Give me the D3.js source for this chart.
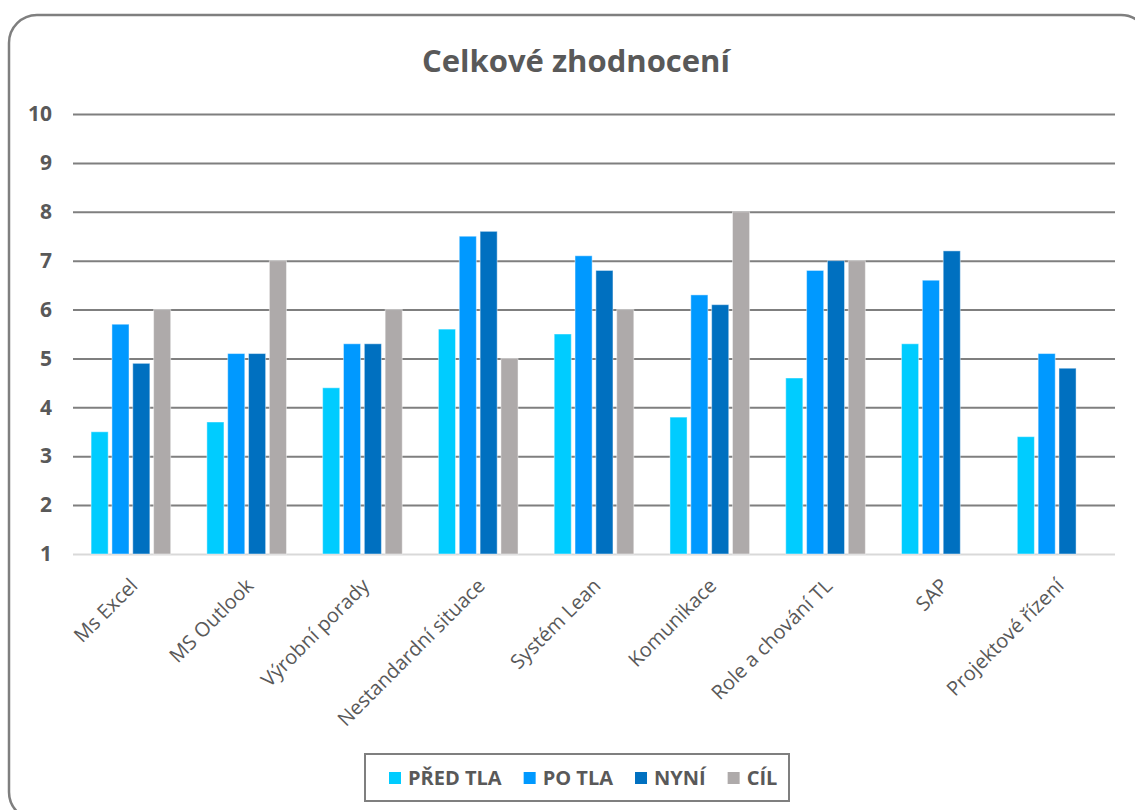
<!DOCTYPE html>
<html>
<head>
<meta charset="utf-8">
<script src="https://cdn.jsdelivr.net/npm/d3@7/dist/d3.min.js"></script>
<style>
  html, body { margin: 0; padding: 0; background: #ffffff; }
  svg { display: block; }
  text { font-family: "Open Sans", "DejaVu Sans", sans-serif; fill: #595959; }
</style>
</head>
<body>
<svg id="chart" width="1135" height="810"></svg>
<script>
// Evaluation categories (x axis)
const categories = [
  "Ms Excel", "MS Outlook", "Výrobní porady", "Nestandardní situace",
  "Systém Lean", "Komunikace", "Role a chování TL", "SAP", "Projektové řízení"
];

// Series names and scores per category (null = no value)
const seriesNames = ["PŘED TLA", "PO TLA", "NYNÍ", "CÍL"];
const predTla = [3.5, 3.7, 4.4, 5.6, 5.5, 3.8, 4.6, 5.3, 3.4];
const poTla   = [5.7, 5.1, 5.3, 7.5, 7.1, 6.3, 6.8, 6.6, 5.1];
const nyni    = [4.9, 5.1, 5.3, 7.6, 6.8, 6.1, 7.0, 7.2, 4.8];
const cil     = [6.0, 7.0, 6.0, 5.0, 6.0, 8.0, 7.0, null, null];

const yTicks = [1, 2, 3, 4, 5, 6, 7, 8, 9, 10];
const seriesColors = ["#00CCFF", "#0099FF", "#0070C0", "#AEAAAA"];

const seriesValues = [predTla, poTla, nyni, cil];

const svg = d3.select("#chart");

// Outer rounded frame
svg.append("rect")
  .attr("x", 9).attr("y", 15)
  .attr("width", 1140).attr("height", 805)
  .attr("rx", 28).attr("ry", 28)
  .attr("fill", "#ffffff")
  .attr("stroke", "#7f7f7f")
  .attr("stroke-width", 2.5);

// Title
svg.append("text")
  .attr("x", 576).attr("y", 72)
  .attr("text-anchor", "middle")
  .style("font-size", "31px")
  .style("font-weight", "700")
  .text("Celkové zhodnocení");

const plot = { left: 73, right: 1115, top: 114, bottom: 554 };

const y = d3.scaleLinear().domain([1, 10]).range([plot.bottom, plot.top]);

const x0 = d3.scaleBand()
  .domain(categories)
  .range([plot.left, plot.right])
  .paddingInner(0.28)
  .paddingOuter(0.14);

const x1 = d3.scaleBand()
  .domain(seriesNames)
  .range([0, x0.bandwidth()])
  .paddingInner(0.18)
  .paddingOuter(0.09);

// Horizontal gridlines
const yAxis = d3.axisLeft(y)
  .tickValues(yTicks)
  .tickSize(-(plot.right - plot.left))
  .tickPadding(21)
  .tickFormat(d3.format("d"));

const gy = svg.append("g")
  .attr("transform", `translate(${plot.left},0)`)
  .call(yAxis);
gy.select(".domain").remove();
gy.selectAll(".tick line")
  .attr("stroke", d => d === 1 ? "#d9d9d9" : "#7f7f7f")
  .attr("stroke-width", 2);
gy.selectAll(".tick text")
  .style("font-size", "21px")
  .style("font-weight", "700")
  .attr("fill", "#595959");

// Bars
const rows = categories.map((c, i) => ({
  category: c,
  values: seriesNames.map((s, k) => ({ series: s, k, value: seriesValues[k][i] }))
}));

const groups = svg.append("g").selectAll("g")
  .data(rows)
  .join("g")
  .attr("transform", d => `translate(${x0(d.category)},0)`);

groups.selectAll("rect")
  .data(d => d.values.filter(v => v.value != null))
  .join("rect")
  .attr("x", d => x1(d.series))
  .attr("width", x1.bandwidth())
  .attr("y", d => y(d.value))
  .attr("height", d => y(1) - y(d.value))
  .attr("fill", d => seriesColors[d.k])
  .attr("stroke", "rgba(255,255,255,0.45)")
  .attr("stroke-width", 1);

// Category labels, rotated
const xAxis = d3.axisBottom(x0).tickSize(0).tickPadding(0);
const gx = svg.append("g")
  .attr("transform", `translate(0,${plot.bottom})`)
  .call(xAxis);
gx.select(".domain").remove();
gx.selectAll(".tick text")
  .attr("text-anchor", "end")
  .attr("y", 0).attr("dy", "0.71em")
  .attr("transform", "translate(-2,23) rotate(-45)")
  .style("font-size", "20px")
  .attr("fill", "#595959");

// Legend
const legend = svg.append("g");
legend.append("rect")
  .attr("x", 365).attr("y", 754)
  .attr("width", 424).attr("height", 47)
  .attr("fill", "#ffffff")
  .attr("stroke", "#7f7f7f")
  .attr("stroke-width", 2);

let lx = 389;
seriesNames.forEach((name, k) => {
  legend.append("rect")
    .attr("x", lx).attr("y", 772)
    .attr("width", 12).attr("height", 12)
    .attr("fill", seriesColors[k]);
  const t = legend.append("text")
    .attr("x", lx + 19).attr("y", 785)
    .style("font-size", "20px")
    .style("font-weight", "700")
    .text(name);
  lx += 19 + t.node().getComputedTextLength() + 22;
});
</script>
</body>
</html>
